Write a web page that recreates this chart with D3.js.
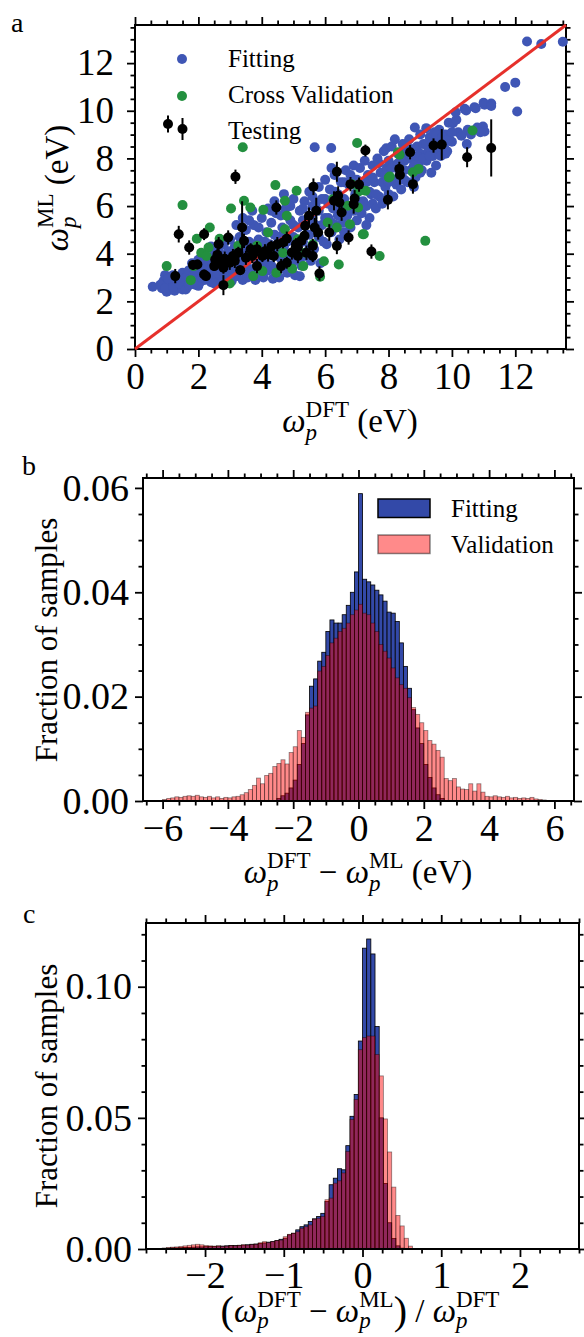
<!DOCTYPE html>
<html>
<head>
<meta charset="utf-8">
<script src="https://cdn.jsdelivr.net/npm/d3@7"></script>
<style>
  body { margin: 0; background: #fff; }
  svg { display: block; font-family: 'Liberation Serif', 'DejaVu Serif', serif; }
</style>
</head>
<body>
<svg id="viz" width="584" height="1337"></svg>
<script>
// ---------- DATA ----------
// panel a: [omega_DFT, omega_ML] in eV
const fitting = [
  [0.56,2.61],[0.85,2.55],[0.9,2.85],[0.95,3.1],[1.0,2.4],[1.0,2.7],
  [1.1,2.5],[1.15,2.8],[1.2,3.1],[1.25,2.45],[1.3,2.7],[1.35,3.0],[1.4,2.55],[1.45,2.9],[1.5,3.2],[1.5,2.5],
  [1.55,2.75],[1.6,3.0],[1.65,2.6],[1.7,3.3],[1.75,2.85],[1.8,3.6],[1.85,3.1],[1.9,2.7],[1.95,3.4],[2.0,3.0],[2.0,3.75],
  [2.05,2.8],[2.1,3.25],[2.15,3.6],[2.2,2.9],[2.25,3.45],[2.3,3.85],[2.35,3.1],[2.4,2.8],[2.45,3.6],[2.5,3.3],[2.5,4.0],[2.4,4.3],
  [2.55,2.9],[2.6,3.5],[2.65,4.1],[2.7,3.1],[2.75,3.8],[2.8,4.4],[2.85,2.9],[2.9,3.5],[2.95,4.1],[3.0,3.2],[3.0,4.6],[2.7,2.75],
  [3.05,2.85],[3.1,3.6],[3.15,4.3],[3.2,3.05],[3.25,3.9],[3.3,4.7],[3.35,3.3],[3.4,2.9],[3.45,4.2],[3.5,3.6],[3.5,5.0],[3.2,5.2],[3.4,5.5],
  [3.55,3.0],[3.6,4.5],[3.65,3.35],[3.7,4.0],[3.75,5.2],[3.8,2.9],[3.85,3.7],[3.9,4.6],[3.95,3.2],[4.0,4.2],[4.0,5.5],[3.7,5.8],
  [4.05,3.0],[4.1,3.6],[4.15,4.9],[4.2,3.3],[4.25,4.4],[4.3,5.3],[4.35,2.95],[4.4,3.9],[4.45,5.7],[4.5,3.3],[4.5,4.7],[4.2,5.9],[4.4,6.2],
  [4.55,3.0],[4.6,3.8],[4.65,5.1],[4.7,4.3],[4.75,5.9],[4.8,3.2],[4.85,4.0],[4.9,5.4],[4.95,3.6],[5.0,4.7],[5.0,6.3],[4.7,6.5],
  [5.05,3.1],[5.1,4.0],[5.15,5.1],[5.2,5.8],[5.25,3.5],[5.3,4.5],[5.35,6.2],[5.4,3.9],[5.45,5.3],[5.5,4.8],[5.5,6.6],[5.2,3.05],
  [5.55,3.7],[5.6,5.5],[5.65,4.2],[5.7,6.1],[5.75,4.9],[5.8,6.8],[5.85,3.6],[5.9,5.2],[5.95,4.5],[6.0,6.3],[6.0,7.1],[5.67,8.47],[5.8,5.8],
  [6.05,4.4],[6.1,5.5],[6.15,6.7],[6.2,4.9],[6.19,8.44],[6.25,5.9],[6.3,7.3],[6.35,5.2],[6.4,6.5],[6.45,4.6],[6.5,5.8],[6.5,7.0],[6.2,7.6],
  [6.55,5.3],[6.6,6.3],[6.65,7.5],[6.7,5.6],[6.75,6.9],[6.8,5.1],[6.85,6.0],[6.9,7.7],[6.95,6.5],[7.0,5.4],[7.0,7.1],[6.6,4.9],
  [7.05,6.2],[7.1,7.6],[7.15,5.7],[7.2,6.8],[7.25,7.9],[7.3,6.0],[7.35,7.3],[7.4,5.5],[7.45,6.5],[7.5,7.7],[7.5,6.1],[7.3,5.2],
  [7.55,7.0],[7.6,5.9],[7.65,8.0],[7.7,6.4],[7.75,7.4],[7.8,6.1],[7.85,8.3],[7.9,6.8],[7.93,8.43],[7.95,7.6],[8.0,6.5],[8.0,7.9],
  [8.05,7.2],[8.1,8.5],[8.15,6.4],[8.2,7.7],[8.25,6.9],[8.3,8.2],[8.35,7.4],[8.4,6.7],[8.45,8.6],[8.5,7.9],[8.5,7.1],[8.2,8.8],
  [8.55,8.3],[8.6,7.0],[8.65,8.8],[8.7,7.5],[8.75,8.0],[8.83,9.3],[8.85,7.2],[8.9,8.5],[8.95,7.8],[9.0,8.2],[9.0,9.0],[8.8,6.8],
  [9.05,7.5],[9.1,8.6],[9.19,9.27],[9.2,7.9],[9.25,8.3],[9.3,8.9],[9.35,7.4],[9.4,8.1],[9.45,9.1],[9.5,8.4],[9.5,7.7],
  [9.55,8.8],[9.6,9.2],[9.65,8.1],[9.75,8.5],[9.8,9.0],[9.85,8.3],[9.9,9.5],[10.0,8.7],
  [10.03,9.48],[10.14,9.62],[10.12,9.94],[10.4,10.08],[10.45,10.01],[10.71,10.15],[10.75,10.11],[11.0,10.34],[11.03,10.25],
  [11.24,10.3],[11.24,10.2],[10.2,9.1],[10.3,8.95],[10.5,9.2],[10.6,9.0],[10.47,8.6],[10.8,9.3],[10.98,9.34],[11.03,9.13],[10.9,9.1],
  [11.68,11.0],[12.0,11.18],[12.06,9.97],[12.37,12.91],[12.82,12.8],[13.5,12.9],
  [0.8,2.7],[0.95,2.55],[1.05,2.95],[1.2,2.6],[1.3,2.9],[1.4,2.75],[1.55,2.95],[1.6,2.5],[1.7,2.7],[1.8,2.95],
  [1.9,3.25],[2.0,2.65],[2.1,3.0],[2.2,3.4],[2.3,2.95],[2.4,3.35],[2.5,2.75],[2.6,3.2],[2.7,3.6],[2.8,3.2],
  [2.9,3.85],[3.0,2.95],[3.1,3.35],[3.2,4.0],[3.3,3.6],[3.4,4.4],[3.5,3.2],[3.6,3.8],[3.7,4.4],[3.8,3.4],
  [3.9,4.0],[4.0,3.6],[4.1,4.5],[4.2,3.9],[4.3,3.5],[4.4,4.8],[4.5,4.1],[4.6,3.4],[4.7,4.9],[4.8,4.5],
  [4.9,3.9],[5.0,5.2],[5.1,4.4],[5.2,3.7],[5.3,5.4],[5.4,4.8],[5.5,4.2],[5.6,6.0],[5.7,5.2],[5.8,4.7],
  [5.9,6.3],[6.0,5.5],[6.1,6.1],[6.2,5.3],[6.3,6.6],[6.4,5.6],[6.5,6.3],[6.6,7.0],[6.7,6.0],[6.8,7.3],
  [6.9,5.8],[7.0,6.6],[7.1,6.9],[7.2,6.2],[7.3,7.0],[7.4,6.6],[7.5,7.2],[7.6,6.5],[7.7,7.8],[7.8,7.0],
  [7.9,7.3],[8.0,7.0],[8.1,7.6],[8.2,7.1],[8.3,7.8],[8.4,8.1],[8.5,7.5],[8.6,8.0],[8.7,8.4],[8.8,7.7],
  [8.9,8.1],[9.0,7.4],[9.1,8.0],[9.2,8.6],[9.3,8.1],[9.4,8.7],[9.5,9.0],[9.6,8.5],[9.7,8.9],[9.8,8.2],
  [9.9,8.8],[10.0,9.1],[3.9,5.1],[4.3,5.8],[4.6,5.6],[4.9,6.0],[5.3,5.9],[5.6,6.4],[3.6,5.4]
];
const crossVal = [
  [3.4,8.47],[7.01,8.65],[1.5,6.04],[3.03,5.9],[3.64,5.94],[4.43,6.88],[5.1,6.64],[3.44,6.22],[4.05,5.84],[4.73,6.22],
  [1.0,3.48],[1.95,4.63],[2.36,5.1],[2.67,4.63],[1.76,2.89],[1.85,3.48],[2.32,4.26],[2.09,4.04],[2.26,3.9],[2.99,2.75],
  [3.73,3.06],[4.02,3.27],[4.46,3.2],[4.96,3.37],[5.31,3.48],[4.2,4.89],[4.73,5.03],[5.14,4.61],[5.61,4.4],[5.96,3.68],
  [6.43,3.55],[5.84,3.03],[6.08,5.31],[6.37,5.1],[6.78,5.24],[7.19,4.82],[7.72,3.9],[9.16,4.54],[6.25,6.29],[6.84,6.92],
  [7.27,6.64],[6.72,6.01],[7.04,5.94],[8.01,7.2],[8.77,7.42],[8.95,7.56],[8.3,8.26],[10.65,9.17],[4.79,5.59],[4.67,4.04],
  [3.26,4.33],[2.62,3.76],[5.37,4.04],[3.85,4.33],[8.35,8.15],[8.04,7.24],[7.06,6.61],[7.22,4.82]
];
// [omega_DFT, omega_ML, error]
const testing = [
  [1.27,3.06,0.3],[1.38,4.82,0.35],[1.71,4.26,0.3],[2.18,4.82,0.25],[1.83,3.53,0.2],[1.97,3.55,0.2],[2.18,3.13,0.2],
  [2.24,3.06,0.2],[2.79,2.68,0.42],[2.64,4.4,0.3],[2.94,4.68,0.3],[3.17,7.23,0.3],[3.38,5.1,1.1],[2.53,3.76,0.3],
  [2.67,3.62,0.25],[2.83,3.79,0.3],[2.5,3.48,0.2],[2.79,3.41,0.25],[3.09,3.9,0.3],[3.26,4.04,0.25],[2.99,3.62,0.3],
  [3.32,3.31,0.2],[3.5,3.83,0.3],[3.44,4.54,0.3],[3.65,4.19,0.25],[3.85,4.19,0.3],[4.02,3.9,0.25],[3.85,3.48,0.3],
  [4.2,3.97,0.3],[4.38,3.9,0.25],[4.46,5.94,0.3],[4.49,4.4,0.3],[4.67,4.47,0.25],[4.79,4.63,0.3],[4.61,3.48,0.3],
  [4.79,3.62,0.25],[5.14,3.9,0.3],[5.14,4.26,0.3],[5.08,4.4,0.25],[5.37,5.17,0.4],[5.35,4.75,0.35],[5.49,5.59,0.35],
  [5.63,6.81,0.35],[5.72,5.8,0.55],[5.67,5.1,0.4],[5.78,4.89,0.3],[5.61,4.33,0.3],[5.41,4.04,0.3],[5.82,3.17,0.3],
  [5.61,3.9,0.25],[6.13,4.89,0.35],[6.37,7.44,0.42],[6.28,6.22,0.4],[6.41,6.43,0.4],[6.45,6.15,0.4],[6.52,5.73,0.35],
  [6.37,4.33,0.35],[6.74,4.68,0.3],[6.8,6.92,0.3],[6.9,6.08,0.4],[6.93,6.32,0.35],[7.07,6.9,0.3],[7.27,8.33,0.25],
  [7.46,4.09,0.3],[7.98,6.26,0.4],[8.34,7.56,0.3],[8.36,7.3,0.4],[8.68,8.26,0.3],[8.77,6.92,0.4],[9.42,8.54,0.3],
  [9.68,8.58,0.65],[10.48,8.05,0.42],[11.24,8.44,1.2],[3.7,3.9,0.3],[4.1,4.1,0.3],[4.3,4.3,0.25],[3.15,3.7,0.3],
  [2.6,3.95,0.25],[4.95,4.05,0.3],[5.25,4.55,0.3]
];
const legendA = ['Fitting', 'Cross Validation', 'Testing'];

// panel b: bins of 0.125 eV starting at -6 eV
const binStartB = -6, binWidthB = 0.125;
const histBFit = [
  0,0,0,0,0,0,0,0,0,0,0,0,0,0,0,0,0,0,0,0,0,0,0,0,0,0,0,0,
  0.0005,0.001,0.0015,0.0025,0.004,0.007,0.011,0.0165,0.022,0.0234,0.0268,0.0285,0.0325,0.0347,0.0341,0.0341,
  0.0357,0.0375,0.040,0.0439,0.0589,0.0425,0.042,0.0414,0.0404,0.0395,0.0383,0.0362,0.036,0.0344,0.0303,0.0258,
  0.0216,0.0175,0.014,0.011,0.007,0.0045,0.0025,0.0012,0.0005,
  0,0,0,0,0,0,0,0,0,0,0,0,0,0,0,0,0,0,0,0,0,0,0,0,0,0,0
];
const histBVal = [
  0.0003,0.0005,0.0006,0.0008,0.0007,0.0009,0.001,0.0009,0.0011,0.0008,0.0007,0.0009,0.0006,0.0008,0.0005,0.0007,
  0.0006,0.0008,0.0009,0.0012,0.0016,0.0022,0.003,0.0044,0.0033,0.0049,0.0053,0.0066,0.0072,0.0079,0.0071,0.0093,
  0.0104,0.0135,0.0122,0.017,0.0178,0.0182,0.0249,0.0258,0.0279,0.0303,0.0312,0.0325,0.0331,0.0341,0.0357,0.0366,
  0.0377,0.036,0.0357,0.0341,0.0325,0.030,0.0287,0.0274,0.0255,0.0236,0.0223,0.0216,0.0198,0.0179,0.0166,0.015,
  0.0135,0.0116,0.0109,0.0097,0.0084,0.0043,0.0039,0.0043,0.0027,0.0023,0.0022,0.0033,0.0019,0.0033,0.0017,0.0009,
  0.0008,0.001,0.0008,0.0007,0.0009,0.0006,0.0007,0.0005,0.0006,0.0005,0.0007,0.0004,0.0003,0.0002,0,0
];
const legendB = ['Fitting', 'Validation'];

// panel c: bins of 0.053 starting at -2.544
const binStartC = -2.544, binWidthC = 0.053;
const histCFit = [
  0.0002,0.0003,0.0004,0.0004,0.0005,0.0006,0.0006,0.0007,0.0008,0.0008,0.0009,0.001,0.001,0.0011,0.0011,0.0012,
  0.0013,0.0013,0.0014,0.0015,0.0016,0.0018,0.0019,0.0021,0.0023,0.0026,0.0028,0.0032,0.0037,0.0041,0.0054,0.006,
  0.0073,0.0085,0.0092,0.0105,0.0115,0.0124,0.0136,0.0181,0.0245,0.027,0.0306,0.0302,0.0394,0.0506,0.0589,0.0793,
  0.1147,0.1182,0.1125,0.0848,0.05,0.025,0.01,0.004,0.0012,0.0003,0,0
];
const histCVal = [
  0.0004,0.0006,0.0007,0.0008,0.001,0.0012,0.0014,0.0016,0.0018,0.0016,0.0013,0.0012,0.0011,0.0012,0.001,0.0011,
  0.0013,0.0012,0.0014,0.0016,0.0015,0.0017,0.0018,0.0024,0.0028,0.0024,0.0028,0.0032,0.0034,0.0047,0.0056,0.006,
  0.0066,0.0079,0.0085,0.0092,0.0114,0.0117,0.0124,0.0188,0.0194,0.0251,0.026,0.029,0.0372,0.0494,0.057,0.076,
  0.0806,0.0812,0.0812,0.0742,0.066,0.0496,0.037,0.0236,0.0128,0.0088,0.0041,0.0011
];

// ---------- STYLE ----------
const blue = '#3f56b5', green = '#23903f', red = '#e6302b';
const histBlue = '#3349a8', histRed = '#ff0000', redAlpha = 0.46;
const serif = "'Liberation Serif', 'DejaVu Serif', serif";

const svg = d3.select('#viz');

// panel boxes (pixels)
const pA = { x0: 135, x1: 566, y0: 25, y1: 349 };
const pB = { x0: 143, x1: 574, y0: 478, y1: 801 };
const pC = { x0: 146, x1: 579, y0: 923, y1: 1249 };

const range = (a, b, s) => d3.range(Math.round((b - a) / s) + 1).map((i) => +(a + i * s).toFixed(4));

// axes with outward ticks on all four sides
const drawAxes = (p, x, y, xMaj, xMin, yMaj, yMin, xFmt, yFmt, fs, padX, padY) => {
  const g = svg.append('g');
  const put = (axis, tx, ty, labels) => {
    const a = g.append('g').attr('transform', 'translate(' + tx + ',' + ty + ')').call(axis);
    a.select('.domain').remove();
    a.attr('font-size', fs).attr('font-family', serif);
    a.selectAll('line').attr('stroke', '#000').attr('stroke-width', 1.8);
    a.selectAll('text').attr('fill', '#000');
    if (!labels) a.selectAll('text').remove();
  };
  const ax = (fn, sc, vals, len, fmt, pad) => fn(sc).tickValues(vals).tickSize(len).tickSizeOuter(0).tickPadding(pad).tickFormat(fmt);
  const none = () => '';
  put(ax(d3.axisBottom, x, xMaj, 8, xFmt, padX), 0, p.y1, true);
  put(ax(d3.axisBottom, x, xMin, 4.5, none, 0), 0, p.y1, false);
  put(ax(d3.axisTop, x, xMaj, 8, none, 0), 0, p.y0, false);
  put(ax(d3.axisTop, x, xMin, 4.5, none, 0), 0, p.y0, false);
  put(ax(d3.axisLeft, y, yMaj, 8, yFmt, padY), p.x0, 0, true);
  put(ax(d3.axisLeft, y, yMin, 4.5, none, 0), p.x0, 0, false);
  put(ax(d3.axisRight, y, yMaj, 8, none, 0), p.x1, 0, false);
  put(ax(d3.axisRight, y, yMin, 4.5, none, 0), p.x1, 0, false);
  g.append('rect')
    .attr('x', p.x0).attr('y', p.y0)
    .attr('width', p.x1 - p.x0).attr('height', p.y1 - p.y0)
    .attr('fill', 'none').attr('stroke', '#000').attr('stroke-width', 2);
};

// text with stacked sub/superscripts
const mathText = (cx, cy, pieces, rotate) => {
  const g = svg.append('g');
  const t = g.append('text').attr('fill', '#000').attr('font-family', serif).style('white-space', 'pre');
  let pen = 0, stackStart = 0;
  pieces.forEach((pc) => {
    const start = pc.stack ? stackStart : pen;
    const ts = t.append('tspan').text(pc.s)
      .attr('x', start).attr('y', pc.dy || 0)
      .attr('font-size', pc.size)
      .attr('font-style', pc.it ? 'italic' : 'normal');
    const w = ts.node().getComputedTextLength();
    if (pc.stack) pen = Math.max(pen, start + w);
    else { stackStart = start; pen = start + w; }
  });
  if (rotate) g.attr('transform', 'translate(' + cx + ',' + cy + ') rotate(-90) translate(' + (-pen / 2) + ',0)');
  else g.attr('transform', 'translate(' + (cx - pen / 2) + ',' + cy + ')');
};
const LS = 33, SS = 23;
const om = (sub, sup, subDy) => [
  { s: 'ω', size: LS, it: true },
  { s: sub, size: SS, it: true, dy: subDy || 8 },
  { s: sup, size: SS, dy: -15, stack: true }
];

const panelLabel = (txt, x, y) => {
  svg.append('text').attr('x', x).attr('y', y).attr('font-size', 28).attr('font-family', serif).text(txt);
};

// ---------- PANEL A ----------
const xa = d3.scaleLinear().domain([0, 13.6]).range([pA.x0, pA.x1]);
const ya = d3.scaleLinear().domain([0, 13.6]).range([pA.y1, pA.y0]);
const aMaj = range(0, 12, 2);
const aMin = range(0, 13.5, 0.5).filter((v) => v % 2 !== 0);
drawAxes(pA, xa, ya, aMaj, aMin, aMaj, aMin, d3.format('d'), d3.format('d'), 37, 6, 13);

const scat = svg.append('g');
scat.append('g').selectAll('circle').data(fitting).enter().append('circle')
  .attr('cx', (d) => xa(d[0])).attr('cy', (d) => ya(d[1])).attr('r', 5).attr('fill', blue);
scat.append('g').selectAll('circle').data(crossVal).enter().append('circle')
  .attr('cx', (d) => xa(d[0])).attr('cy', (d) => ya(d[1])).attr('r', 5).attr('fill', green);
scat.append('line')
  .attr('x1', xa(0)).attr('y1', ya(0)).attr('x2', xa(13.6)).attr('y2', ya(13.6))
  .attr('stroke', red).attr('stroke-width', 3);
const tg = scat.append('g');
tg.selectAll('line').data(testing).enter().append('line')
  .attr('x1', (d) => xa(d[0])).attr('x2', (d) => xa(d[0]))
  .attr('y1', (d) => ya(d[1] - d[2])).attr('y2', (d) => ya(d[1] + d[2]))
  .attr('stroke', '#000').attr('stroke-width', 2);
tg.selectAll('circle').data(testing).enter().append('circle')
  .attr('cx', (d) => xa(d[0])).attr('cy', (d) => ya(d[1])).attr('r', 5).attr('fill', '#000');

// legend a
const lga = svg.append('g').attr('font-family', serif).attr('font-size', 25);
lga.append('circle').attr('cx', 182).attr('cy', 59).attr('r', 5).attr('fill', blue);
lga.append('circle').attr('cx', 182).attr('cy', 96).attr('r', 5).attr('fill', green);
[[168, 124, 8.5], [182.5, 129, 11]].forEach((m) => {
  lga.append('line').attr('x1', m[0]).attr('x2', m[0]).attr('y1', m[1] - m[2]).attr('y2', m[1] + m[2])
    .attr('stroke', '#000').attr('stroke-width', 2);
  lga.append('circle').attr('cx', m[0]).attr('cy', m[1]).attr('r', 5).attr('fill', '#000');
});
lga.selectAll('text.lab').data(legendA).enter().append('text')
  .attr('x', 228).attr('y', (d, i) => 67 + i * 36).text((d) => d);

mathText(350, 432, [...om('p', 'DFT'), { s: ' (eV)', size: LS }], false);
mathText(68, 188, [...om('p', 'ML'), { s: ' (eV)', size: LS }], true);
panelLabel('a', 11, 32);

// ---------- HISTOGRAMS ----------
const drawHist = (x, y, start, width, vals, fill, opacity) => {
  const data = vals.map((v, i) => ({ x0: start + i * width, v: v })).filter((d) => d.v > 0);
  svg.append('g').selectAll('rect').data(data).enter().append('rect')
    .attr('x', (d) => x(d.x0))
    .attr('width', (d) => x(d.x0 + width) - x(d.x0))
    .attr('y', (d) => y(d.v))
    .attr('height', (d) => y(0) - y(d.v))
    .attr('fill', fill).attr('fill-opacity', opacity)
    .attr('stroke', '#000').attr('stroke-opacity', opacity).attr('stroke-width', 0.8);
};

// ---------- PANEL B ----------
const xb = d3.scaleLinear().domain([-6.6, 6.6]).range([pB.x0, pB.x1]);
const yb = d3.scaleLinear().domain([0, 0.0619]).range([pB.y1, pB.y0]);
drawHist(xb, yb, binStartB, binWidthB, histBFit, histBlue, 1);
drawHist(xb, yb, binStartB, binWidthB, histBVal, histRed, redAlpha);
drawAxes(pB, xb, yb, range(-6, 6, 2), range(-6.5, 6.5, 0.5).filter((v) => v % 2 !== 0),
  range(0, 0.06, 0.02), range(0, 0.06, 0.005).filter((v) => Math.round(v * 1000) % 20 !== 0),
  d3.format('d'), d3.format('.2f'), 38, 5, 6);

const lgb = svg.append('g').attr('font-family', serif).attr('font-size', 25);
lgb.append('rect').attr('x', 378).attr('y', 499).attr('width', 52).attr('height', 18.5)
  .attr('fill', histBlue).attr('stroke', '#000').attr('stroke-width', 1.5);
lgb.append('rect').attr('x', 378).attr('y', 535).attr('width', 52).attr('height', 18.5)
  .attr('fill', histRed).attr('fill-opacity', redAlpha).attr('stroke', '#000').attr('stroke-opacity', redAlpha).attr('stroke-width', 1.5);
lgb.selectAll('text.lab').data(legendB).enter().append('text')
  .attr('x', 451).attr('y', (d, i) => 517 + i * 36).text((d) => d);

mathText(358, 883, [...om('p', 'DFT'), { s: ' − ', size: LS }, ...om('p', 'ML'), { s: ' (eV)', size: LS }], false);
mathText(57, 640, [{ s: 'Fraction of samples', size: 31 }], true);
panelLabel('b', 22, 475);

// ---------- PANEL C ----------
const xc = d3.scaleLinear().domain([-2.75, 2.75]).range([pC.x0, pC.x1]);
const yc = d3.scaleLinear().domain([0, 0.1243]).range([pC.y1, pC.y0]);
drawHist(xc, yc, binStartC, binWidthC, histCFit, histBlue, 1);
drawHist(xc, yc, binStartC, binWidthC, histCVal, histRed, redAlpha);
drawAxes(pC, xc, yc, range(-2, 2, 1), range(-2.75, 2.75, 0.25).filter((v) => v % 1 !== 0),
  range(0, 0.1, 0.05), range(0, 0.12, 0.01).filter((v) => Math.round(v * 100) % 5 !== 0),
  d3.format('d'), d3.format('.2f'), 38, 4, 6);

mathText(360, 1322, [
  { s: '(', size: 40, dy: 2 }, ...om('p', 'DFT', 6), { s: ' − ', size: LS }, ...om('p', 'ML', 6),
  { s: ')', size: 40, dy: 2 }, { s: ' / ', size: LS }, ...om('p', 'DFT', 6)
], false);
mathText(57, 1086, [{ s: 'Fraction of samples', size: 31 }], true);
panelLabel('c', 23, 923);
</script>
</body>
</html>
